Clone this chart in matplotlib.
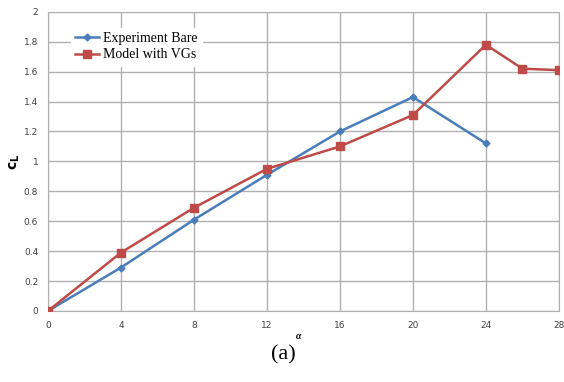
import matplotlib
matplotlib.use("Agg")
import matplotlib.pyplot as plt

# angle of attack (deg) and lift coefficient
alpha_bare = [0, 4, 8, 12, 16, 20, 24]
cl_bare = [0.0, 0.29, 0.61, 0.91, 1.20, 1.43, 1.12]

alpha_vg = [0, 4, 8, 12, 16, 20, 24, 26, 28]
cl_vg = [0.0, 0.39, 0.69, 0.95, 1.10, 1.31, 1.78, 1.62, 1.61]

xticks = [0, 4, 8, 12, 16, 20, 24, 28]
yticks = [0, 0.2, 0.4, 0.6, 0.8, 1, 1.2, 1.4, 1.6, 1.8, 2]

fig = plt.figure(figsize=(5.64, 3.82), dpi=100)
ax = fig.add_axes([0.085, 0.186, 0.906, 0.783])

ax.plot(alpha_bare, cl_bare, color="#4a7ebb", lw=1.8, marker="D", ms=3.5,
        label="Experiment Bare", zorder=3)
ax.plot(alpha_vg, cl_vg, color="#be4b48", lw=1.8, marker="s", ms=6,
        label="Model with VGs", zorder=3)

ax.set_xlim(0, 28)
ax.set_ylim(0, 2)
ax.set_xticks(xticks)
ax.set_yticks(yticks)
ax.set_yticklabels([f"{v:g}" for v in yticks])
ax.grid(True, color="#b0b0b0", lw=1)
for s in ax.spines.values():
    s.set_color("#b0b0b0")
ax.tick_params(length=0, labelsize=6.5, colors="#404040", pad=7)
for lab in ax.get_xticklabels() + ax.get_yticklabels():
    lab.set_color("#404040")
    lab.set_family("DejaVu Sans")

ax.set_xlabel("α", fontsize=7, fontweight="bold", family="Liberation Serif",
              style="italic", va="center")
ax.xaxis.set_label_coords(0.49, -0.087)
ax.set_ylabel("$\\mathbf{c}_{\\mathbf{L}}$", fontsize=10, va="center")
ax.yaxis.set_label_coords(-0.065, 0.5)

leg = ax.legend(loc="upper left", bbox_to_anchor=(0.032, 0.97), frameon=True,
                fancybox=False, edgecolor="white", framealpha=1,
                prop={"family": "Liberation Serif", "size": 10},
                handlelength=1.7, handletextpad=0.3, borderpad=0.3,
                labelspacing=0.25)

fig.text(0.502, 0.07, "(a)", ha="center", va="center",
         fontsize=16, family="Liberation Serif")

fig.savefig("out.png", dpi=100)
